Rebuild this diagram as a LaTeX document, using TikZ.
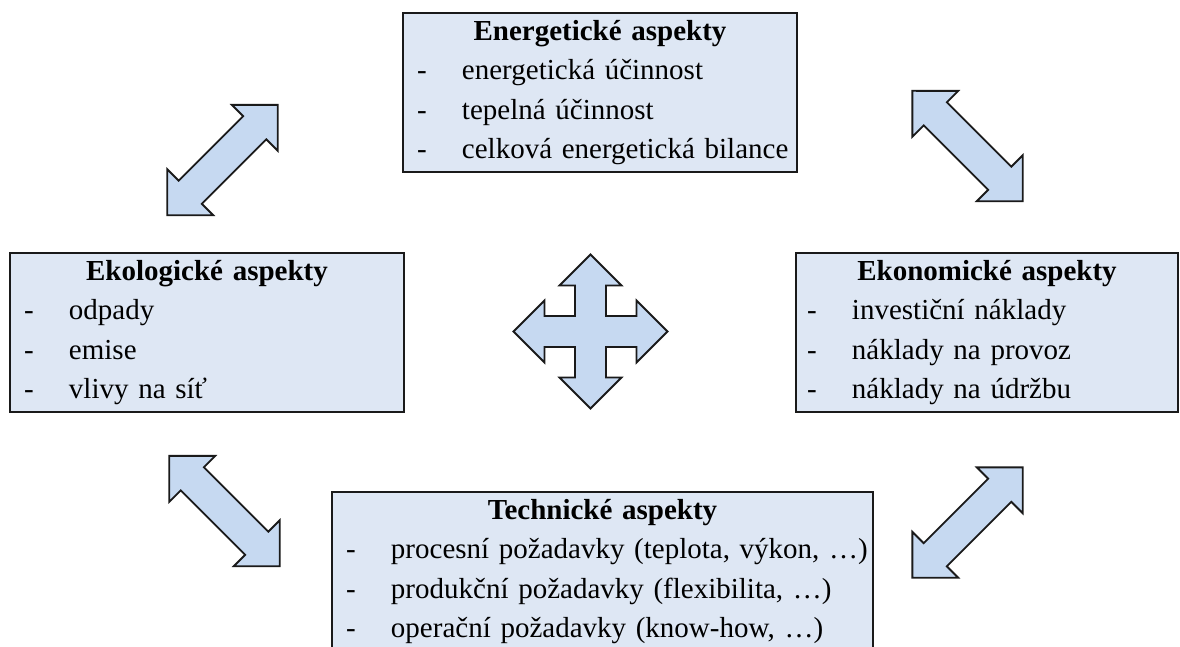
\documentclass[tikz,border=0pt]{standalone}
\usepackage{fontspec}
\setmainfont{Liberation Serif}
\usetikzlibrary{shapes.arrows}
\definecolor{ink}{HTML}{1A1A1A}
\definecolor{boxfill}{HTML}{DEE7F4}
\definecolor{arrowfill}{HTML}{C6D9F1}

\newcommand{\head}[1]{\makebox[\hsize]{\textbf{#1}}}
\newcommand{\itm}[1]{\\\makebox[45pt][l]{-}\mbox{#1}}

\begin{document}
\begin{tikzpicture}[
  x=1pt, y=-1pt,
  font=\fontsize{29}{39.5}\selectfont,
  aspect/.style = {draw=ink, line width=1.6pt, fill=boxfill, align=left,
                   inner xsep=14pt, inner ysep=0pt, text width=366pt,
                   minimum height=159pt},
  twoway/.style = {double arrow, draw=ink, line width=1.8pt, fill=arrowfill,
                   inner xsep=0pt, inner ysep=15.5pt, minimum height=156pt,
                   double arrow head extend=16pt},
  quad/.style   = {draw=ink, line width=1.8pt, fill=arrowfill},
]
\useasboundingbox (0,0) rectangle (1180,646);

% ---------- aspect boxes ----------
\node[aspect] (energ) at (600,92.5)
  {\head{Energetické aspekty}\itm{energetická účinnost}\itm{tepelná účinnost}\itm{celková energetická bilance}};
\node[aspect] (ekol) at (207,332.5)
  {\head{Ekologické aspekty}\itm{odpady}\itm{emise}\itm{vlivy na síť}};
\node[aspect, inner xsep=11pt, text width=360pt] (ekon) at (987,332.5)
  {\head{Ekonomické aspekty}\itm{investiční náklady}\itm{náklady na provoz}\itm{náklady na údržbu}};
\node[aspect, text width=513pt] (tech) at (602.5,571.5)
  {\head{Technické aspekty}\itm{procesní požadavky (teplota, výkon, …)}\itm{produkční požadavky (flexibilita, …)}\itm{operační požadavky (know-how, …)}};

% ---------- links ----------
\node[twoway, rotate=45]  (ae) at (222.5,160) {};
\node[twoway, rotate=-45] (ee) at (967.5,146) {};
\node[twoway, rotate=-45] (at) at (224.5,511) {};
\node[twoway, rotate=45]  (et) at (967.5,522.5) {};

% ---------- centre ----------
\coordinate (hub) at (590.5,331.5);
\draw[quad] (hub) ++(0,-77) -- ++(31,31) -- ++(-15.5,0) -- ++(0,30.5)
  -- ++(30.5,0) -- ++(0,-15.5) -- ++(31,31) -- ++(-31,31) -- ++(0,-15.5)
  -- ++(-30.5,0) -- ++(0,30.5) -- ++(15.5,0) -- ++(-31,31) -- ++(-31,-31)
  -- ++(15.5,0) -- ++(0,-30.5) -- ++(-30.5,0) -- ++(0,15.5) -- ++(-31,-31)
  -- ++(31,-31) -- ++(0,15.5) -- ++(30.5,0) -- ++(0,-30.5) -- ++(-15.5,0)
  -- cycle;

\end{tikzpicture}
\end{document}
